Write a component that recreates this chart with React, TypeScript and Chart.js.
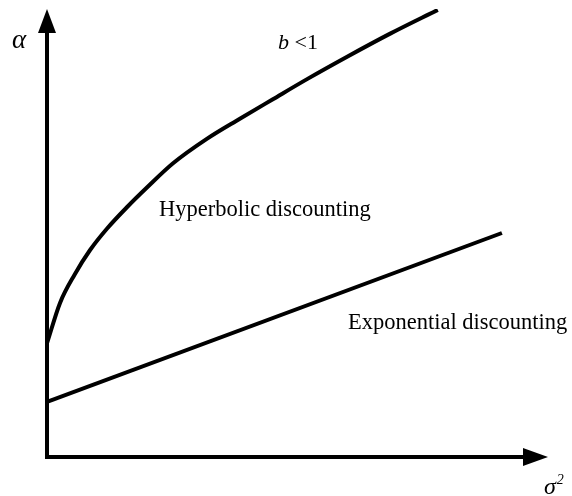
import React, { useEffect, useRef } from "react";
import { Chart, registerables } from "chart.js";

Chart.register(...registerables);

// Hyperbolic discounting curve (b < 1): sigma^2 vs alpha
const hyperX = [0, 0.26, 0.55, 0.86, 1.2, 1.6, 2.0, 2.51, 3.19, 3.85, 4.5, 5.2, 6.0, 6.85, 7.8];
const hyperY = [2.54, 3.44, 4.07, 4.62, 5.1, 5.58, 6.02, 6.55, 7.1, 7.55, 7.98, 8.44, 8.94, 9.45, 9.98];

// Exponential discounting line
const expoX = [0, 9.08];
const expoY = [1.23, 5.0];

const axisMax = 10;

const FONT = '"Liberation Serif", "DejaVu Serif", serif';

const axesPlugin = {
  id: "axesArrows",
  afterDatasetsDraw(chart: any) {
    const { ctx, scales } = chart;
    const x0 = scales.x.getPixelForValue(0);
    const y0 = scales.y.getPixelForValue(0);
    const xMax = scales.x.getPixelForValue(axisMax);
    const yMax = scales.y.getPixelForValue(axisMax);
    ctx.save();
    ctx.strokeStyle = "#000";
    ctx.fillStyle = "#000";
    ctx.lineWidth = 4;
    ctx.lineCap = "butt";
    ctx.beginPath();
    ctx.moveTo(x0, yMax + 20);
    ctx.lineTo(x0, y0);
    ctx.lineTo(xMax - 20, y0);
    ctx.stroke();
    // up arrow
    ctx.beginPath();
    ctx.moveTo(x0, yMax);
    ctx.lineTo(x0 - 9, yMax + 24);
    ctx.lineTo(x0 + 9, yMax + 24);
    ctx.closePath();
    ctx.fill();
    // right arrow
    ctx.beginPath();
    ctx.moveTo(xMax, y0);
    ctx.lineTo(xMax - 25, y0 - 9);
    ctx.lineTo(xMax - 25, y0 + 9);
    ctx.closePath();
    ctx.fill();

    ctx.textBaseline = "alphabetic";
    ctx.textAlign = "left";
    // alpha
    ctx.font = `italic 27px ${FONT}`;
    ctx.fillText("α", 12, 48);
    // b < 1
    ctx.font = `italic 22px ${FONT}`;
    ctx.fillText("b", 278, 49);
    const bw = ctx.measureText("b ").width;
    ctx.font = `22px ${FONT}`;
    ctx.fillText("<1", 278 + bw, 49);
    // labels
    ctx.font = `22.5px ${FONT}`;
    ctx.fillText("Hyperbolic discounting", 159, 216);
    ctx.fillText("Exponential discounting", 348, 329);
    // sigma^2
    ctx.font = `italic 24px ${FONT}`;
    ctx.fillText("σ", 544, 494);
    const sw = ctx.measureText("σ").width;
    ctx.font = `italic 14px ${FONT}`;
    ctx.fillText("2", 544 + sw + 1, 484);
    ctx.restore();
  },
};

export default function App() {
  const ref = useRef<HTMLCanvasElement>(null);
  useEffect(() => {
    document.body.style.margin = "0";
    const chart = new Chart(ref.current!, {
      type: "scatter",
      data: {
        datasets: [
          {
            label: "Hyperbolic discounting",
            data: hyperX.map((x, i) => ({ x, y: hyperY[i] })),
            showLine: true,
            borderColor: "#000",
            borderWidth: 4,
            pointRadius: 0,
            cubicInterpolationMode: "monotone",
          },
          {
            label: "Exponential discounting",
            data: expoX.map((x, i) => ({ x, y: expoY[i] })),
            showLine: true,
            borderColor: "#000",
            borderWidth: 4,
            pointRadius: 0,
          },
        ],
      },
      options: {
        animation: false,
        responsive: false,
        layout: { padding: { left: 47, right: 24, top: 9, bottom: 39 } },
        plugins: { legend: { display: false }, tooltip: { enabled: false } },
        scales: {
          x: { type: "linear", min: 0, max: axisMax, display: false },
          y: { type: "linear", min: 0, max: axisMax, display: false },
        },
      },
      plugins: [axesPlugin],
    });
    return () => chart.destroy();
  }, []);
  return (
    <div style={{ width: 572, height: 496, background: "#fff" }}>
      <canvas ref={ref} width={572} height={496} style={{ display: "block" }} />
    </div>
  );
}
